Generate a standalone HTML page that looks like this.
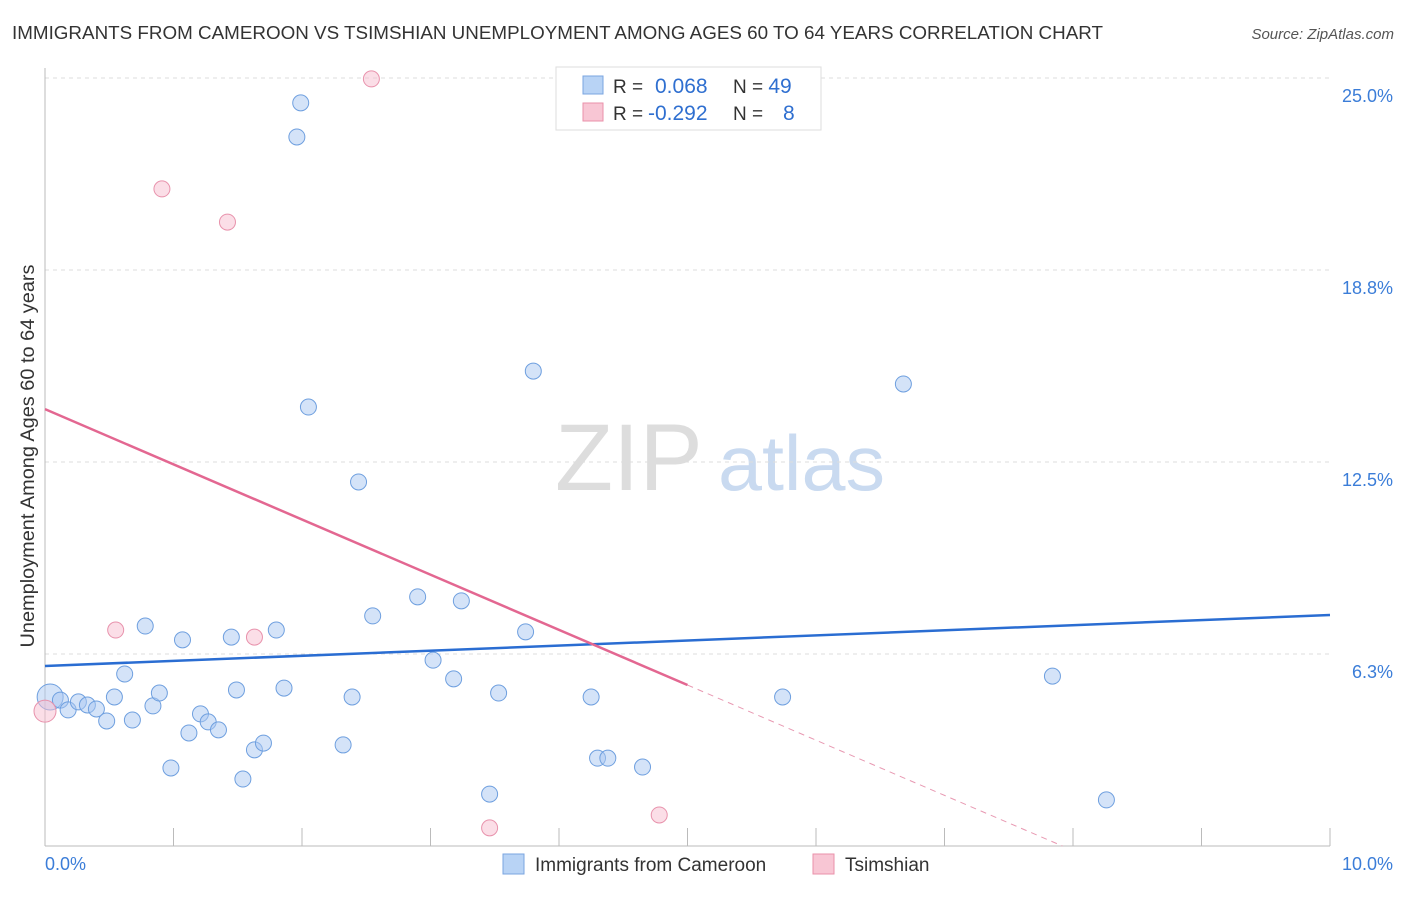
<!DOCTYPE html>
<html><head><meta charset="utf-8"><style>
body{margin:0;background:#fff;font-family:"Liberation Sans",sans-serif;}
svg text{font-family:"Liberation Sans",sans-serif;}
</style></head><body>
<svg id="c" width="1406" height="892" xmlns="http://www.w3.org/2000/svg">
<text x="12" y="39" font-size="18" fill="#333" textLength="1091" lengthAdjust="spacingAndGlyphs">IMMIGRANTS FROM CAMEROON VS TSIMSHIAN UNEMPLOYMENT AMONG AGES 60 TO 64 YEARS CORRELATION CHART</text>
<text x="1394" y="39" font-size="15" fill="#555" font-style="italic" text-anchor="end">Source: ZipAtlas.com</text>
<text x="555" y="490" font-size="95" fill="#ddd" font-family="Liberation Serif">ZIP</text>
<text x="718" y="490" font-size="78" fill="#c9daf0" textLength="167" lengthAdjust="spacingAndGlyphs">atlas</text>
<text transform="translate(34,456) rotate(-90)" font-size="19" fill="#333" text-anchor="middle" textLength="383" lengthAdjust="spacingAndGlyphs">Unemployment Among Ages 60 to 64 years</text>
<g id="grid"></g><g id="marks"></g>
<g>
<rect x="556" y="67" width="265" height="63" fill="#fff" stroke="#ddd"/>
<rect x="583" y="76" width="20" height="18" fill="#b8d3f5" stroke="#7aa5e0"/>
<rect x="583" y="103" width="20" height="18" fill="#f8c6d4" stroke="#ea90aa"/>
<text x="613" y="93" font-size="19" fill="#333">R = <tspan fill="#2f6fd0" x="655" font-size="21">0.068</tspan><tspan x="733" fill="#333">N = </tspan><tspan fill="#2f6fd0" font-size="21">49</tspan></text>
<text x="613" y="120" font-size="19" fill="#333">R = <tspan fill="#2f6fd0" x="648" font-size="21">-0.292</tspan><tspan x="733" fill="#333">N = </tspan><tspan fill="#2f6fd0" x="783" font-size="21">8</tspan></text>
</g>
<g>
<rect x="503" y="854" width="21" height="20" fill="#b8d3f5" stroke="#7aa5e0"/>
<text x="535" y="871" font-size="19" fill="#333">Immigrants from Cameroon</text>
<rect x="813" y="854" width="21" height="20" fill="#f8c6d4" stroke="#ea90aa"/>
<text x="845" y="871" font-size="19" fill="#333">Tsimshian</text>
</g>
</svg>
<script>
const yTicks=[6.25,12.5,18.75,25];
const yTickLabels=["6.3%","12.5%","18.8%","25.0%"];
const xTickLabels=["0.0%","10.0%"];
const blueX=[0.04,0.12,0.18,0.26,0.33,0.40,0.48,0.54,0.62,0.68,0.78,0.84,0.89,0.98,1.07,1.12,1.21,1.27,1.35,1.45,1.49,1.54,1.63,1.70,1.80,1.86,1.96,1.99,2.05,2.32,2.39,2.44,2.55,2.90,3.02,3.18,3.24,3.46,3.53,3.74,3.80,4.25,4.30,4.38,4.65,5.74,6.68,7.84,8.26];
const blueY=[4.85,4.75,4.43,4.69,4.59,4.46,4.07,4.85,5.60,4.10,7.16,4.56,4.98,2.54,6.71,3.68,4.30,4.04,3.78,6.80,5.08,2.18,3.13,3.35,7.03,5.14,23.08,24.19,14.29,3.29,4.85,11.85,7.49,8.11,6.05,5.44,7.98,1.69,4.98,6.97,15.46,4.85,2.86,2.86,2.57,4.85,15.04,5.53,1.50];
const pinkX=[0.0,0.55,0.91,1.42,1.63,2.54,3.46,4.78];
const pinkY=[4.39,7.03,21.39,20.31,6.80,24.97,0.59,1.01];
const blueLine=[5.86,7.52];
const pinkLine=[14.22,-1.796];
const X=v=>45+v*128.5, Y=v=>846-v*30.72;
const NS="http://www.w3.org/2000/svg";
const grid=document.getElementById('grid'), marks=document.getElementById('marks');
function mk(t,a,p){const e=document.createElementNS(NS,t);for(const k in a)e.setAttribute(k,a[k]);p.appendChild(e);return e;}
yTicks.forEach((t,i)=>{
 const l=mk('line',{x1:45,x2:1330,y1:Y(t),y2:Y(t),stroke:'#ddd','stroke-dasharray':'4,4'},grid);
 
 
 const tx=mk('text',{x:1393,y:Y(t)+24,'font-size':18,fill:'#3b7dd8','text-anchor':'end'},grid);tx.textContent=yTickLabels[i];
 
 
});
const ax=mk('line',{x1:45,x2:1330,y1:846,y2:846,stroke:'#bbb'},grid);


const ay=mk('line',{x1:45,x2:45,y1:68,y2:846,stroke:'#bbb'},grid);


for(let i=0;i<=10;i++){const t=mk('line',{x1:X(i),x2:X(i),y1:828,y2:846,stroke:'#bbb'},grid);
 
 }
[[0,'start',45],[10,'end',1393]].forEach((d,i)=>{const t=mk('text',{x:d[2],y:870,'font-size':18,fill:'#3b7dd8','text-anchor':d[1]},grid);t.textContent=xTickLabels[i];
 
 });
blueX.forEach((x,i)=>{const c=mk('circle',{cx:X(x),cy:Y(blueY[i]),r:i==0?13:8,fill:'rgba(170,200,242,0.5)',stroke:'#6e9fdf','stroke-width':1},marks);
 
 });
pinkX.forEach((x,i)=>{const c=mk('circle',{cx:X(x),cy:Y(pinkY[i]),r:i==0?11:8,fill:'rgba(248,190,208,0.5)',stroke:'#e892ac','stroke-width':1},marks);
 
 });
const bl=mk('line',{x1:X(0),y1:Y(blueLine[0]),x2:X(10),y2:Y(blueLine[1]),stroke:'#2a6dd2','stroke-width':2.5},marks);


const pe=-pinkLine[0]/pinkLine[1];
const pl=mk('line',{x1:X(0),y1:Y(pinkLine[0]),x2:X(5),y2:Y(pinkLine[0]+5*pinkLine[1]),stroke:'#e36791','stroke-width':2.5},marks);


const pd=mk('line',{x1:X(5),y1:Y(pinkLine[0]+5*pinkLine[1]),x2:X(pe),y2:Y(0),stroke:'#e899b2','stroke-width':1,'stroke-dasharray':'6,5'},marks);


</script>
</body></html>
